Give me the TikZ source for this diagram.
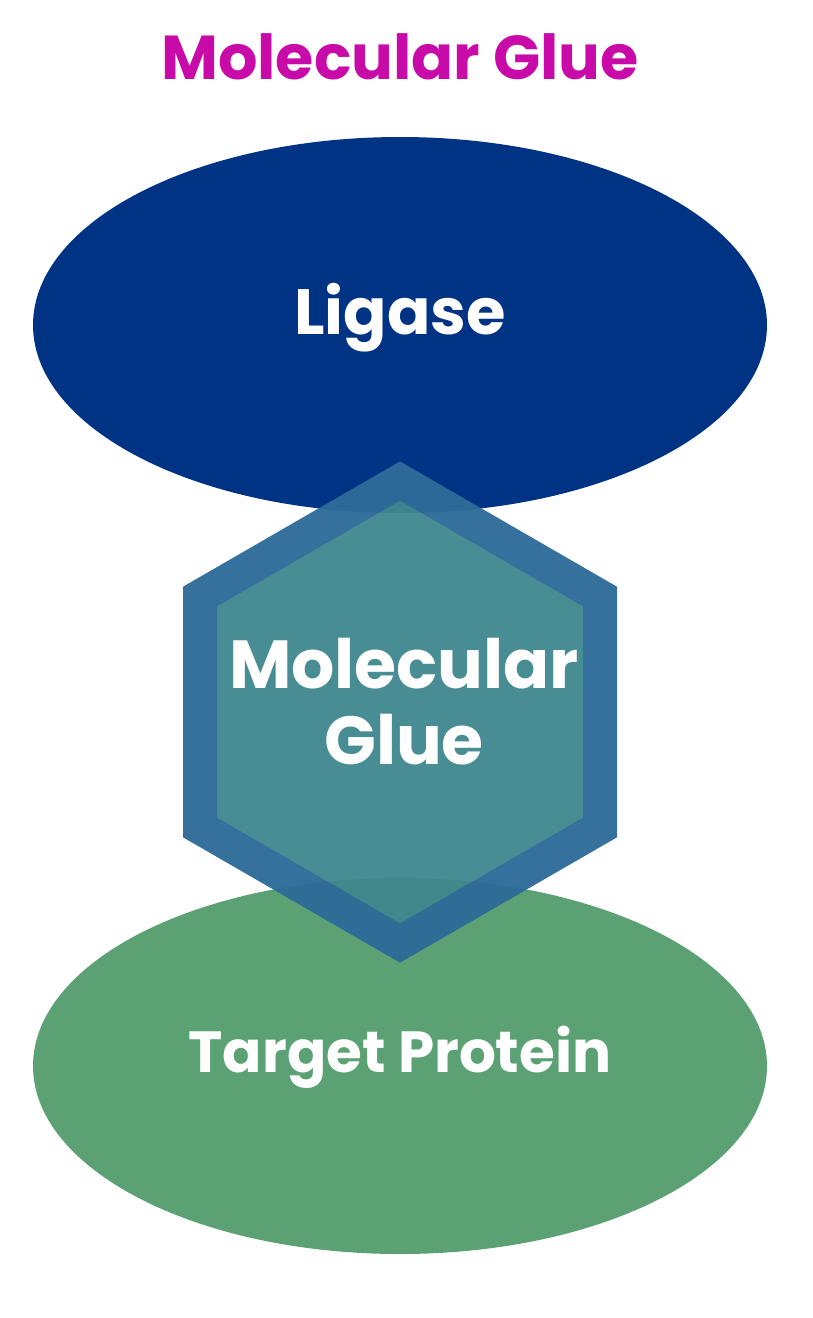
\documentclass[tikz,border=0pt]{standalone}
\usepackage{fontspec}
\setmainfont{Poppins}
\usetikzlibrary{shapes.geometric}
\definecolor{ligase}{HTML}{003383}
\definecolor{target}{HTML}{5CA174}
\definecolor{hexfill}{HTML}{40888F}
\definecolor{hexline}{HTML}{2E6B99}
\definecolor{titlec}{HTML}{C80AA8}
\begin{document}
\begin{tikzpicture}[x=1pt,y=-1pt,
  lbl/.style={text=white,font=\bfseries\fontsize{#1}{#1}\selectfont,align=center},
  blob/.style={ellipse,draw=none,minimum width=734pt,minimum height=376pt,inner sep=0pt}]
\useasboundingbox (0,0) rectangle (813,1318);
\node[font=\bfseries\fontsize{62}{62}\selectfont,text=titlec] (title) at (400,57) {Molecular Glue};
\node[blob,fill=ligase] (lig) at (400,325) {};
\node[lbl=64] (ligt) at (400,318) {Ligase};
\node[blob,fill=target] (tgt) at (400,1066) {};
\node[lbl=58] (tgtt) at (400,1057) {Target Protein};
\begin{scope}[transparency group,opacity=0.96]
\draw[fill=hexfill,draw=hexline,line width=34pt,line join=miter]
  (400,481) -- (600,596.5) -- (600,827.5) -- (400,943) -- (200,827.5) -- (200,596.5) -- cycle;
\end{scope}
\node[lbl=68] (hext) at (404,702) {Molecular\\[8pt]Glue};
\end{tikzpicture}
\end{document}
